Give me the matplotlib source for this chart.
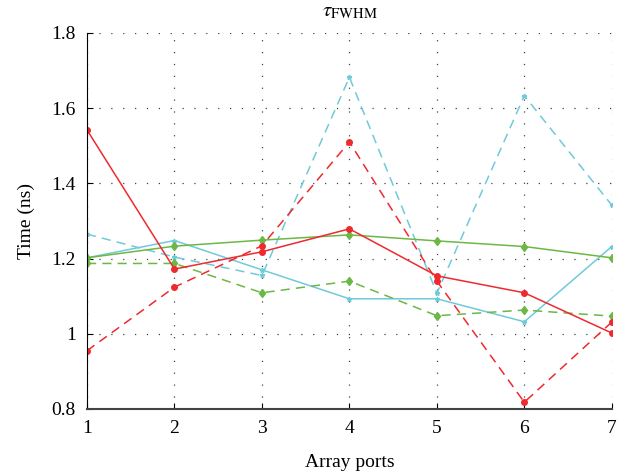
import matplotlib
matplotlib.use("Agg")
import matplotlib.pyplot as plt

plt.rcParams['font.family'] = ['Liberation Serif', 'DejaVu Serif']
plt.rcParams['mathtext.fontset'] = 'stix'

ports = [1, 2, 3, 4, 5, 6, 7]

red_solid = [1.542, 1.172, 1.218, 1.279, 1.154, 1.109, 1.002]
red_dashed = [0.955, 1.124, 1.234, 1.510, 1.140, 0.818, 1.031]
cyan_solid = [1.202, 1.248, 1.170, 1.093, 1.093, 1.032, 1.232]
cyan_dashed = [1.265, 1.204, 1.155, 1.682, 1.108, 1.633, 1.342]
green_solid = [1.202, 1.233, 1.249, 1.263, 1.247, 1.232, 1.202]
green_dashed = [1.187, 1.187, 1.109, 1.140, 1.048, 1.063, 1.047]

red = '#ee2a2f'
cyan = '#6fcad9'
green = '#6bb845'

fig = plt.figure(figsize=(6.32, 4.76), dpi=100)
ax = fig.add_axes([0.1377, 0.1408, 0.8303, 0.79])

lw = 1.1
ax.plot(ports, cyan_dashed, '--', color=cyan, lw=lw, marker='*', ms=3.5, dashes=(6, 4))
ax.plot(ports, cyan_solid, '-', color=cyan, lw=lw, marker='*', ms=3.5)
ax.plot(ports, green_dashed, '--', color=green, lw=lw, marker='d', ms=4.5, dashes=(6, 4))
ax.plot(ports, green_solid, '-', color=green, lw=lw, marker='d', ms=4.5)
ax.plot(ports, red_dashed, '--', color=red, lw=lw, marker='o', ms=4, dashes=(6, 4))
ax.plot(ports, red_solid, '-', color=red, lw=lw, marker='o', ms=4)

ax.set_xlim(1, 7)
ax.set_ylim(0.8, 1.8)
ax.set_xticks(ports)
ax.set_yticks([0.8, 1.0, 1.2, 1.4, 1.6, 1.8])
ax.set_yticklabels(['0.8', '1', '1.2', '1.4', '1.6', '1.8'])
ax.tick_params(direction='in', labelsize=14, length=4, pad=8)
ax.grid(True, linestyle=(0, (1, 8.5)), color='#444444', lw=0.9)

for s in ['top', 'right']:
    ax.spines[s].set_visible(False)
ax.spines['left'].set_color('black')
ax.spines['bottom'].set_color('#444444')
ax.spines['bottom'].set_linewidth(1.5)

ax.set_xlabel('Array ports', fontsize=14, labelpad=12)
ax.set_ylabel('Time (ns)', fontsize=14, labelpad=12)
ax.set_title(r'$\tau_{\mathrm{FWHM}}$', fontsize=15, pad=12)

fig.savefig('out.png', dpi=100)
